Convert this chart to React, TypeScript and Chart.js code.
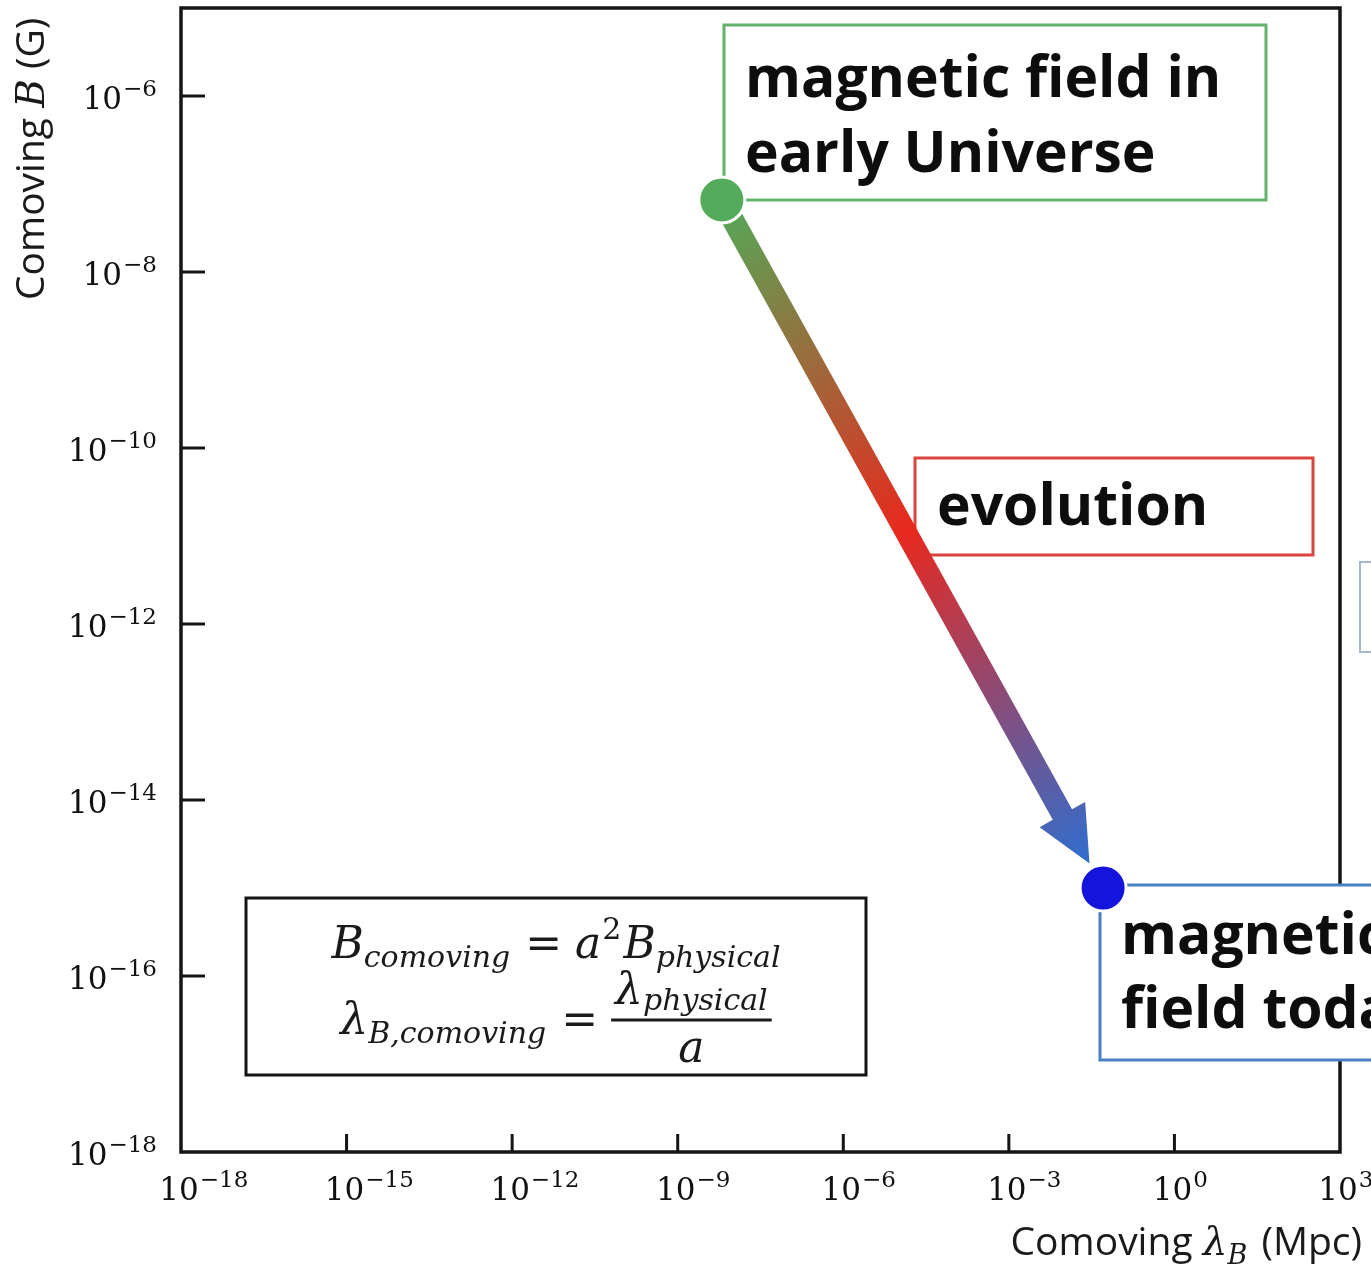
import React, { useEffect, useRef } from 'react';
import { Chart, registerables } from 'chart.js';

Chart.register(...registerables);

// ---------------- data ----------------
const X_TICK_EXPONENTS = [-18, -15, -12, -9, -6, -3, 0, 3];
const Y_TICK_EXPONENTS = [-6, -8, -10, -12, -14, -16, -18];
const X_MIN = 1e-18;
const X_MAX = 1e3;
const Y_MIN = 1e-18;
const Y_MAX = 1e-5;

const STAGES = ['magnetic field in early Universe', 'magnetic field today'];
const LAMBDA_B_MPC = [6.3e-9, 5.1e-2];
const B_COMOVING_G = [6.6e-8, 1.0e-15];
const STAGE_COLORS = ['#55ab5c', '#1414dc'];

const X_TITLE = 'Comoving';
const Y_TITLE = 'Comoving';

// ---------------- styles ----------------
const W = 1371;
const H = 1269;
const SERIF = '"DejaVu Serif", serif';
const SANS = '"Open Sans", "Noto Sans", sans-serif';
const BOLD = 'bold 57px "Open Sans", "Noto Sans", sans-serif';
const FRAME = '#151515';
const INK = '#111111';

type Run = { t: string; font: string; dy?: number; gapBefore?: number; gapAfter?: number };

function runsWidth(ctx: CanvasRenderingContext2D, runs: Run[]) {
  let w = 0;
  for (const r of runs) {
    ctx.font = r.font;
    w += (r.gapBefore || 0) + ctx.measureText(r.t).width + (r.gapAfter || 0);
  }
  return w;
}

function drawRuns(ctx: CanvasRenderingContext2D, runs: Run[], x: number, y: number) {
  let cx = x;
  ctx.textAlign = 'left';
  ctx.textBaseline = 'alphabetic';
  for (const r of runs) {
    ctx.font = r.font;
    cx += r.gapBefore || 0;
    ctx.fillText(r.t, cx, y + (r.dy || 0));
    cx += ctx.measureText(r.t).width + (r.gapAfter || 0);
  }
  return cx;
}

function powRuns(exp: number): Run[] {
  const sup = exp < 0 ? '\u2212' + Math.abs(exp) : String(exp);
  return [
    { t: '10', font: `31px ${SERIF}` },
    { t: sup, font: `23px ${SERIF}`, dy: -13, gapBefore: 1 },
  ];
}

function box(ctx: CanvasRenderingContext2D, x1: number, y1: number, x2: number, y2: number, color: string, lw = 3) {
  ctx.save();
  ctx.fillStyle = '#ffffff';
  ctx.fillRect(x1, y1, x2 - x1, y2 - y1);
  ctx.strokeStyle = color;
  ctx.lineWidth = lw;
  ctx.strokeRect(x1, y1, x2 - x1, y2 - y1);
  ctx.restore();
}

const decorPlugin = {
  id: 'decor',
  beforeDatasetsDraw(chart: any) {
    const ctx: CanvasRenderingContext2D = chart.ctx;
    const xs = chart.scales.x;
    const ys = chart.scales.y;
    const a = chart.chartArea;
    ctx.save();

    // frame
    ctx.strokeStyle = FRAME;
    ctx.lineWidth = 3.5;
    ctx.strokeRect(a.left, a.top, a.right - a.left, a.bottom - a.top);

    // inward ticks
    ctx.lineWidth = 3;
    ctx.beginPath();
    for (const e of Y_TICK_EXPONENTS) {
      const y = ys.getPixelForValue(Math.pow(10, e));
      if (y >= a.bottom - 2) continue;
      ctx.moveTo(a.left, y);
      ctx.lineTo(a.left + 24, y);
    }
    for (const e of X_TICK_EXPONENTS) {
      const x = xs.getPixelForValue(Math.pow(10, e));
      if (x <= a.left + 2 || x >= a.right - 2) continue;
      ctx.moveTo(x, a.bottom);
      ctx.lineTo(x, a.bottom - 18);
    }
    ctx.stroke();

    // tick labels
    ctx.fillStyle = INK;
    for (const e of Y_TICK_EXPONENTS) {
      const y = ys.getPixelForValue(Math.pow(10, e));
      const runs = powRuns(e);
      const w = runsWidth(ctx, runs);
      drawRuns(ctx, runs, 157 - w, y + 13);
    }
    for (const e of X_TICK_EXPONENTS) {
      const x = xs.getPixelForValue(Math.pow(10, e));
      ctx.font = `31px ${SERIF}`;
      const wb = ctx.measureText('10').width;
      drawRuns(ctx, powRuns(e), x - 2 - wb / 2, 1200);
    }

    // axis titles
    ctx.fillStyle = '#1a1a1a';
    const xt: Run[] = [
      { t: X_TITLE + ' ', font: `39px ${SANS}` },
      { t: '\u03bb', font: `italic 39px ${SERIF}` },
      { t: 'B', font: `italic 27px ${SERIF}`, dy: 9, gapAfter: 4 },
      { t: ' (Mpc)', font: `39px ${SANS}` },
    ];
    drawRuns(ctx, xt, 1362 - runsWidth(ctx, xt), 1255);

    const yt: Run[] = [
      { t: Y_TITLE + ' ', font: `39px ${SANS}` },
      { t: 'B', font: `italic 39px ${SERIF}` },
      { t: ' (G)', font: `39px ${SANS}` },
    ];
    ctx.save();
    ctx.translate(44, 300);
    ctx.rotate(-Math.PI / 2);
    drawRuns(ctx, yt, 0, 0);
    ctx.restore();

    // annotation boxes
    box(ctx, 724, 25, 1266, 200, '#62b26c');
    box(ctx, 915, 458, 1313, 555, '#d9443c');
    box(ctx, 1100, 885, 1520, 1060, '#4a7fc6');
    box(ctx, 1360, 562, 1480, 652, '#a8b6cc', 2);

    ctx.fillStyle = '#0d0d0d';
    ctx.font = BOLD;
    ctx.textAlign = 'left';
    ctx.textBaseline = 'alphabetic';
    ctx.fillText('magnetic field in', 745, 97);
    ctx.fillText('early Universe', 745, 172);
    ctx.fillText('evolution', 937, 525);
    ctx.fillText('magnetic', 1121, 954);
    ctx.fillText('field today', 1121, 1028);

    // formula box
    box(ctx, 246, 898, 866, 1075, FRAME, 3);
    ctx.fillStyle = '#1a1a1a';
    const IT = `italic 44px ${SERIF}`;
    const SUB = `italic 30px ${SERIF}`;
    const UP = `44px ${SERIF}`;
    const cx = 556;
    const l1: Run[] = [
      { t: 'B', font: IT },
      { t: 'comoving', font: SUB, dy: 9 },
      { t: '=', font: UP, gapBefore: 15, gapAfter: 13 },
      { t: 'a', font: IT },
      { t: '2', font: `30px ${SERIF}`, dy: -19, gapBefore: 1 },
      { t: 'B', font: IT, gapBefore: 2 },
      { t: 'physical', font: SUB, dy: 9 },
    ];
    drawRuns(ctx, l1, cx - runsWidth(ctx, l1) / 2, 958);

    const base2 = 1034;
    const l2: Run[] = [
      { t: '\u03bb', font: IT },
      { t: 'B,comoving', font: SUB, dy: 9 },
      { t: '=', font: UP, gapBefore: 15, gapAfter: 13 },
    ];
    const num: Run[] = [
      { t: '\u03bb', font: IT },
      { t: 'physical', font: SUB, dy: 6 },
    ];
    const numW = runsWidth(ctx, num);
    const fracW = numW + 8;
    const total = runsWidth(ctx, l2) + fracW;
    const fx = drawRuns(ctx, l2, cx - total / 2, base2);
    const bar = base2 - 14;
    ctx.fillRect(fx, bar - 1.5, fracW, 3);
    drawRuns(ctx, num, fx + (fracW - numW) / 2, bar - 16);
    ctx.font = IT;
    const aw = ctx.measureText('a').width;
    ctx.fillText('a', fx + (fracW - aw) / 2, base2 + 28);

    // evolution arrow between the two stages
    const x0 = xs.getPixelForValue(LAMBDA_B_MPC[0]);
    const y0 = ys.getPixelForValue(B_COMOVING_G[0]);
    const x1 = xs.getPixelForValue(LAMBDA_B_MPC[1]);
    const y1 = ys.getPixelForValue(B_COMOVING_G[1]);
    const dx = x1 - x0;
    const dy = y1 - y0;
    const L = Math.hypot(dx, dy);
    const ux = dx / L;
    const uy = dy / L;
    const px = -uy;
    const py = ux;
    const tipD = L - 28;
    const tx = x0 + ux * tipD;
    const ty = y0 + uy * tipD;
    const headLen = 56;
    const headHalf = 26;
    const shaftHalf = 11;
    const bx = tx - ux * headLen;
    const by = ty - uy * headLen;
    const g = ctx.createLinearGradient(x0, y0, tx, ty);
    g.addColorStop(0, '#52aa58');
    g.addColorStop(0.5, '#e8291e');
    g.addColorStop(1, '#2f6ed0');
    ctx.fillStyle = g;
    ctx.beginPath();
    ctx.moveTo(x0 + px * shaftHalf, y0 + py * shaftHalf);
    ctx.lineTo(bx + px * shaftHalf, by + py * shaftHalf);
    ctx.lineTo(bx + px * headHalf, by + py * headHalf);
    ctx.lineTo(tx, ty);
    ctx.lineTo(bx - px * headHalf, by - py * headHalf);
    ctx.lineTo(bx - px * shaftHalf, by - py * shaftHalf);
    ctx.lineTo(x0 - px * shaftHalf, y0 - py * shaftHalf);
    ctx.closePath();
    ctx.fill();

    ctx.restore();
  },
};

export default function App() {
  const ref = useRef<HTMLCanvasElement | null>(null);

  useEffect(() => {
    if (!ref.current) return;
    const chart = new Chart(ref.current, {
      type: 'scatter',
      data: {
        datasets: [
          {
            label: 'Comoving B vs comoving \u03bb_B',
            data: LAMBDA_B_MPC.map((x, i) => ({ x, y: B_COMOVING_G[i], stage: STAGES[i] })),
            pointRadius: 23,
            pointHoverRadius: 23,
            pointBackgroundColor: STAGE_COLORS,
            pointBorderColor: '#ffffff',
            pointBorderWidth: 3,
            clip: false,
          } as any,
        ],
      },
      options: {
        responsive: false,
        animation: false,
        devicePixelRatio: 1,
        layout: { autoPadding: false, padding: { top: 8, right: 31, left: 0, bottom: 0 } },
        plugins: { legend: { display: false }, tooltip: { enabled: false } },
        scales: {
          x: {
            type: 'logarithmic',
            min: X_MIN,
            max: X_MAX,
            position: 'bottom',
            grid: { display: false },
            border: { display: false },
            ticks: { display: false },
            afterFit: (s: any) => {
              s.height = 117;
            },
          },
          y: {
            type: 'logarithmic',
            min: Y_MIN,
            max: Y_MAX,
            position: 'left',
            grid: { display: false },
            border: { display: false },
            ticks: { display: false },
            afterFit: (s: any) => {
              s.width = 181;
            },
          },
        },
      } as any,
      plugins: [decorPlugin],
    });
    return () => chart.destroy();
  }, []);

  return (
    <div style={{ position: 'absolute', left: 0, top: 0, width: W, height: H, background: '#ffffff' }}>
      <canvas ref={ref} width={W} height={H} style={{ display: 'block', width: W, height: H }} />
    </div>
  );
}
